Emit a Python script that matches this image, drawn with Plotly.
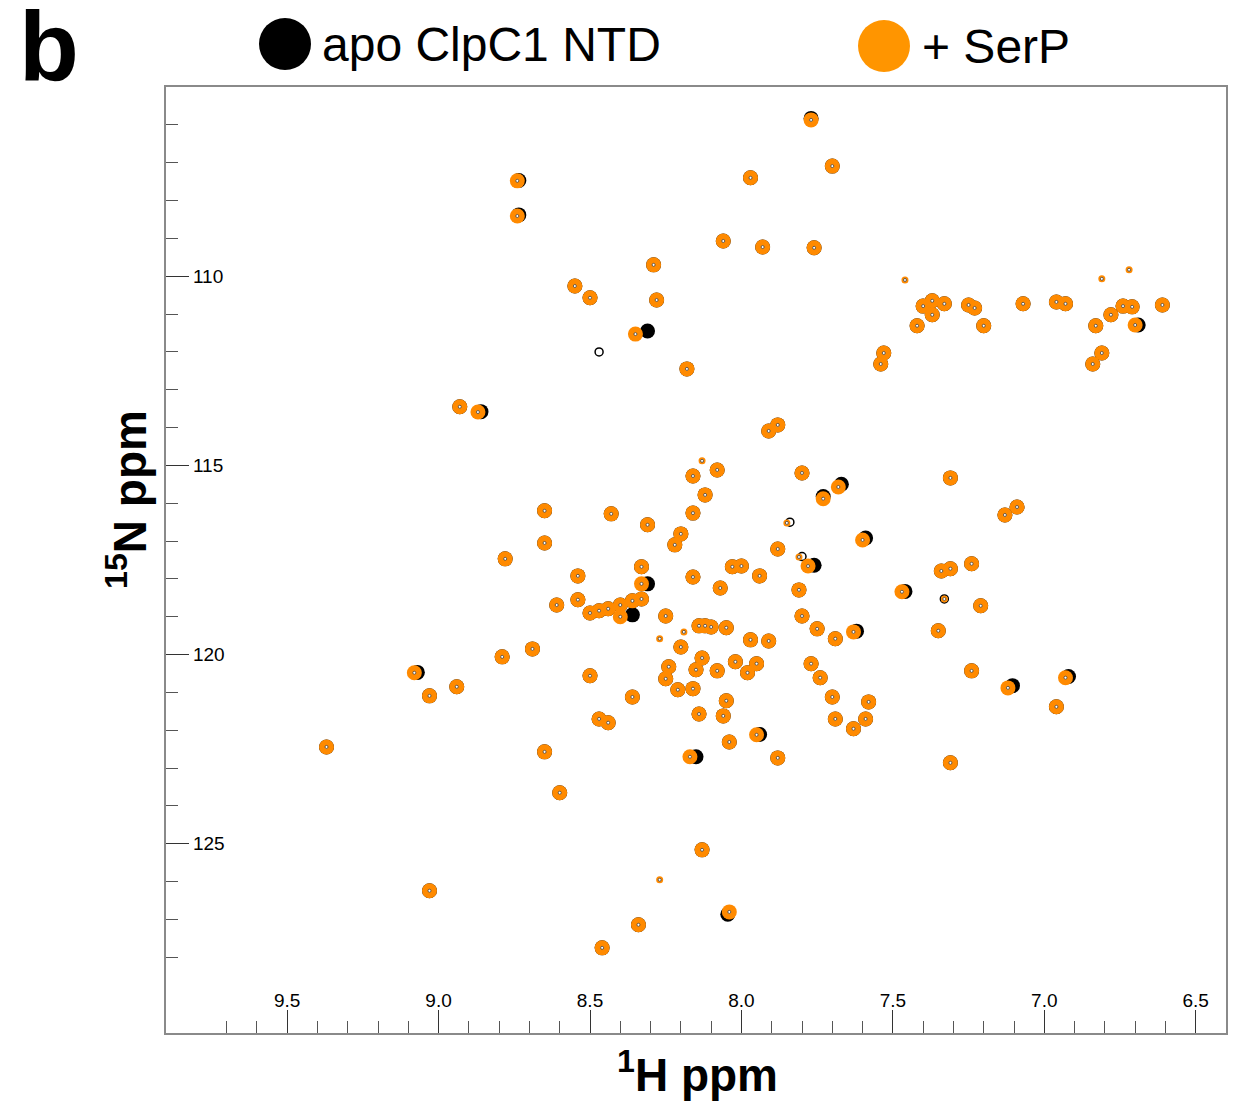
import plotly.graph_objects as go

# ---------------- data (1H ppm, 15N ppm) ----------------
# peaks that overlap in both spectra (apo and + SerP)
common_h = [7.70, 7.97, 8.06, 7.93, 7.76, 8.29, 8.55, 8.50, 8.28, 8.18,
            8.93, 8.78, 8.79, 8.94, 9.03, 9.37, 9.03, 7.40, 7.37, 7.33,
            7.37, 7.42, 7.25, 7.23, 7.20, 7.07, 6.96, 6.93, 6.74, 6.71,
            6.61, 6.78, 6.83, 7.53, 7.54, 6.81, 6.84, 7.31, 7.09, 7.13,
            7.24, 7.34, 7.31, 7.21, 7.35, 7.24, 6.96, 7.31, 7.58, 7.59,
            7.91, 7.88, 8.08, 8.16, 7.80, 8.12, 8.65, 8.43, 8.31, 8.16,
            8.20, 8.22, 8.65, 7.88, 8.33, 8.03, 8.00, 7.94, 8.54, 8.16,
            8.07, 7.81, 8.54, 8.61, 8.40, 8.36, 8.33, 8.50, 8.47, 8.44,
            8.25, 7.80, 8.14, 8.12, 8.10, 8.05, 7.75, 7.69, 7.97, 7.91,
            8.69, 8.20, 8.13, 7.77, 8.02, 7.95, 8.24, 8.15, 8.08, 7.98,
            7.74, 8.25, 8.50, 8.21, 8.16, 8.36, 8.05, 7.70, 8.47, 8.44,
            8.14, 8.06, 7.69, 7.63, 8.65, 8.04, 7.88, 8.60, 8.13, 8.34,
            8.46]
common_n = [107.09, 107.40, 109.07, 109.23, 109.25, 109.70, 110.26, 110.57, 110.63, 112.45,
            113.45, 117.47, 120.06, 120.85, 121.09, 122.44, 126.24, 110.79, 110.65, 110.73,
            111.02, 111.31, 110.76, 110.84, 111.31, 110.73, 110.68, 110.73, 110.79, 110.81,
            110.76, 111.02, 111.31, 112.03, 112.32, 112.03, 112.32, 115.33, 116.10, 116.31,
            117.60, 117.79, 117.73, 118.71, 119.37, 120.43, 121.38, 122.86, 121.25, 121.70,
            114.09, 113.93, 115.12, 115.28, 115.20, 115.78, 116.20, 116.28, 116.57, 116.26,
            116.81, 117.10, 117.05, 117.21, 117.68, 117.68, 117.66, 117.92, 117.92, 117.95,
            118.24, 118.29, 118.55, 118.69, 118.69, 118.58, 118.53, 118.90, 118.84, 118.79,
            118.98, 118.98, 119.24, 119.24, 119.27, 119.29, 119.32, 119.58, 119.61, 119.64,
            119.85, 119.80, 120.09, 120.24, 120.19, 120.24, 120.32, 120.40, 120.43, 120.48,
            120.61, 120.64, 120.56, 120.93, 120.90, 121.12, 121.22, 121.12, 121.70, 121.80,
            121.57, 121.62, 121.70, 121.96, 122.57, 122.31, 122.73, 123.65, 125.16, 127.14,
            127.75]

# peaks that move on SerP binding
shift_apo_h = [7.77, 8.735, 8.735, 8.31, 8.86, 9.07, 6.69, 7.59, 7.46, 7.105,
               6.92, 7.67, 7.73, 7.76, 8.31, 8.36, 7.62, 8.15, 7.94, 8.045]
shift_apo_n = [105.83, 107.47, 108.38, 111.45, 113.58, 120.47, 111.29, 116.92, 118.33, 120.82,
               120.58, 115.50, 115.82, 117.64, 118.13, 118.95, 119.38, 122.70, 122.11, 126.86]
shift_serp_h = [7.77, 8.74, 8.74, 8.35, 8.87, 9.08, 6.70, 7.60, 7.47, 7.12,
                6.93, 7.68, 7.73, 7.78, 8.33, 8.40, 7.63, 8.17, 7.95, 8.04]
shift_serp_n = [105.87, 107.48, 108.41, 111.53, 113.59, 120.48, 111.29, 116.97, 118.34, 120.88,
                120.61, 115.57, 115.88, 117.66, 118.13, 119.00, 119.40, 122.70, 122.12, 126.80]

# weak peaks
weak_serp_h = [8.13, 8.19, 8.27, 7.33, 6.72, 6.81, 7.46, 8.27, 7.85, 7.81]
weak_serp_n = [114.88, 119.40, 125.95, 118.53, 109.83, 110.07, 110.10, 119.58, 116.52, 117.42]
weak_apo_h = [8.47, 7.33, 7.84, 7.80]
weak_apo_n = [112.00, 118.53, 116.50, 117.41]

x_ticks = [9.5, 9.0, 8.5, 8.0, 7.5, 7.0, 6.5]
y_ticks = [110, 115, 120, 125]

series_names = ["apo ClpC1 NTD", "+ SerP"]

# ---------------- figure ----------------
ORANGE = "#FF8A00"
LEG_ORANGE = "#FF9500"
FONT = "Liberation Sans, Arial, Helvetica, sans-serif"

apo_h = common_h + shift_apo_h
apo_n = common_n + shift_apo_n
serp_h = common_h + shift_serp_h
serp_n = common_n + shift_serp_n

fig = go.Figure()
fig.add_trace(go.Scatter(x=apo_h, y=apo_n, mode="markers", name=series_names[0],
                         marker=dict(size=15, color="black", line=dict(width=0)),
                         hoverinfo="x+y"))
fig.add_trace(go.Scatter(x=weak_apo_h, y=weak_apo_n, mode="markers", name=series_names[0],
                         marker=dict(size=8, symbol="circle-open", color="black",
                                     line=dict(width=1.5, color="black")),
                         hoverinfo="x+y"))
fig.add_trace(go.Scatter(x=serp_h, y=serp_n, mode="markers", name=series_names[1],
                         marker=dict(size=15, color=ORANGE, line=dict(width=0)),
                         hoverinfo="x+y"))
fig.add_trace(go.Scatter(x=weak_serp_h, y=weak_serp_n, mode="markers", name=series_names[1],
                         marker=dict(size=7, color=ORANGE, line=dict(width=0)),
                         hoverinfo="x+y"))
# contour centres
fig.add_trace(go.Scatter(x=serp_h + weak_serp_h, y=serp_n + weak_serp_n, mode="markers",
                         marker=dict(size=3, color="white", line=dict(width=0.8, color="#444")),
                         hoverinfo="skip"))

tickfont = dict(size=19, family=FONT, color="black")

fig.update_layout(
    width=1251, height=1106,
    margin=dict(l=166, r=25, t=87, b=73, autoexpand=False),
    paper_bgcolor="white", plot_bgcolor="white",
    showlegend=False,
    font=dict(family=FONT, color="black"),
    xaxis=dict(
        range=[9.9, 6.4], tickvals=x_ticks, tickformat=".1f",
        ticks="inside", ticklen=23, tickwidth=1.2, tickcolor="#333",
        ticklabelposition="inside", tickfont=tickfont,
        minor=dict(tick0=9.8, dtick=0.1, ticks="inside", ticklen=12, tickwidth=1.2, tickcolor="#555"),
        showline=True, mirror=True, linecolor="#8a8a8a", linewidth=1.5,
        showgrid=False, zeroline=False, automargin=False,
    ),
    yaxis=dict(
        range=[130, 105], tickvals=y_ticks,
        ticks="inside", ticklen=23, tickwidth=1.2, tickcolor="#333",
        ticklabelposition="inside", tickfont=tickfont, ticklabelstandoff=5,
        minor=dict(tick0=105, dtick=1, ticks="inside", ticklen=12, tickwidth=1.2, tickcolor="#555"),
        showline=True, mirror=True, linecolor="#8a8a8a", linewidth=1.5,
        showgrid=False, zeroline=False, automargin=False,
    ),
)

# manual legend (large circles), axis titles and panel letter
def px_x(p):
    return (p - 166) / 1060.0

def px_y(p):
    return (1033 - p) / 946.0

fig.add_shape(type="circle", xref="paper", yref="paper", xsizemode="pixel", ysizemode="pixel",
              xanchor=px_x(285), yanchor=px_y(44), x0=-26, x1=26, y0=-26, y1=26,
              fillcolor="black", line=dict(width=0))
fig.add_shape(type="circle", xref="paper", yref="paper", xsizemode="pixel", ysizemode="pixel",
              xanchor=px_x(884), yanchor=px_y(46), x0=-26, x1=26, y0=-26, y1=26,
              fillcolor=LEG_ORANGE, line=dict(width=0))
fig.add_annotation(text=series_names[0], xref="paper", yref="paper", x=px_x(320), y=px_y(44),
                   xanchor="left", yanchor="middle", showarrow=False,
                   font=dict(size=48, family=FONT, color="black"))
fig.add_annotation(text=series_names[1], xref="paper", yref="paper", x=px_x(920), y=px_y(46),
                   xanchor="left", yanchor="middle", showarrow=False,
                   font=dict(size=48, family=FONT, color="black"))
fig.add_annotation(text="<b>b</b>", xref="paper", yref="paper", x=px_x(49), y=px_y(46),
                   xanchor="center", yanchor="middle", showarrow=False,
                   font=dict(size=98, family=FONT, color="black"))
fig.add_annotation(text="<b><sup>1</sup>H ppm</b>", xref="paper", yref="paper",
                   x=px_x(697), y=px_y(1072), xanchor="center", yanchor="middle", showarrow=False,
                   font=dict(size=46, family=FONT, color="black"))
fig.add_annotation(text="<b><sup>15</sup>N ppm</b>", xref="paper", yref="paper",
                   x=px_x(127), y=px_y(500), xanchor="center", yanchor="middle", showarrow=False,
                   textangle=-90, font=dict(size=46, family=FONT, color="black"))

fig.write_html("out.html", config={"displayModeBar": False},
               post_script="document.body.style.margin='0px';document.body.style.overflow='hidden';")
